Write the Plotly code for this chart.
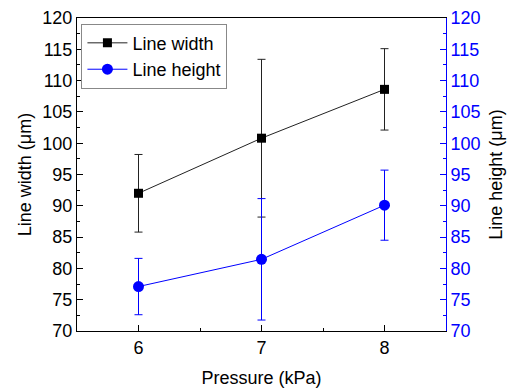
import plotly.graph_objects as go

pressure = [6, 7, 8]
width_mean = [92.0, 100.8, 108.6]
width_err = [6.2, 12.6, 6.5]
height_mean = [77.1, 81.45, 90.1]
height_err = [4.5, 9.7, 5.6]

FONT = "Liberation Sans, Arial, sans-serif"
BLUE = "#0000FF"

fig = go.Figure()
fig.add_trace(go.Scatter(
    x=pressure, y=width_mean, name="Line width", mode="lines+markers",
    line=dict(color="#222222", width=1),
    marker=dict(symbol="square", size=9, color="black"),
    error_y=dict(type="data", array=width_err, color="#222222", thickness=1, width=4),
))
fig.add_trace(go.Scatter(
    x=pressure, y=height_mean, name="Line height", mode="lines+markers",
    yaxis="y2",
    line=dict(color=BLUE, width=1),
    marker=dict(symbol="circle", size=11, color=BLUE),
    error_y=dict(type="data", array=height_err, color=BLUE, thickness=1, width=4),
))

fig.update_layout(
    width=513, height=389,
    margin=dict(l=77, r=67, t=18, b=58, autoexpand=False),
    paper_bgcolor="white", plot_bgcolor="white",
    font=dict(family=FONT, size=18, color="black"),
    showlegend=True,
    legend=dict(x=0.012, y=0.982, xanchor="left", yanchor="top",
                bgcolor="white", bordercolor="#888888", borderwidth=1,
                font=dict(size=18), itemwidth=40, tracegroupgap=0),
    xaxis=dict(range=[5.5, 8.5], tickvals=[6, 7, 8], showgrid=False, zeroline=False,
               automargin=False,
               showline=True, linecolor="black", linewidth=1, mirror=True,
               ticks="inside", ticklen=6, tickcolor="black",
               minor=dict(dtick=0.5, ticks="inside", ticklen=3, tickcolor="black"),
               title=dict(text="Pressure (kPa)", standoff=14, font=dict(size=18)),
               tickfont=dict(size=18)),
    yaxis=dict(range=[70, 120], dtick=5, showgrid=False, zeroline=False,
               automargin=False,
               showline=True, linecolor="black", linewidth=1,
               ticks="inside", ticklen=6, tickcolor="black",
               minor=dict(dtick=2.5, ticks="inside", ticklen=3, tickcolor="black"),
               title=dict(text="Line width (μm)", standoff=6, font=dict(size=18)),
               tickfont=dict(size=18)),
    yaxis2=dict(range=[70, 120], dtick=5, overlaying="y", side="right",
                showgrid=False, zeroline=False, automargin=False,
                showline=True, linecolor=BLUE, linewidth=1,
                ticks="inside", ticklen=6, tickcolor=BLUE,
                minor=dict(dtick=2.5, ticks="inside", ticklen=3, tickcolor=BLUE),
                tickfont=dict(size=18, color=BLUE),
                title=dict(text="Line height (μm)", standoff=9, font=dict(size=18, color="black"))),
)

fig.write_html("out.html", config={"displayModeBar": False},
               post_script="document.body.style.margin='0';document.body.style.overflow='hidden';")
